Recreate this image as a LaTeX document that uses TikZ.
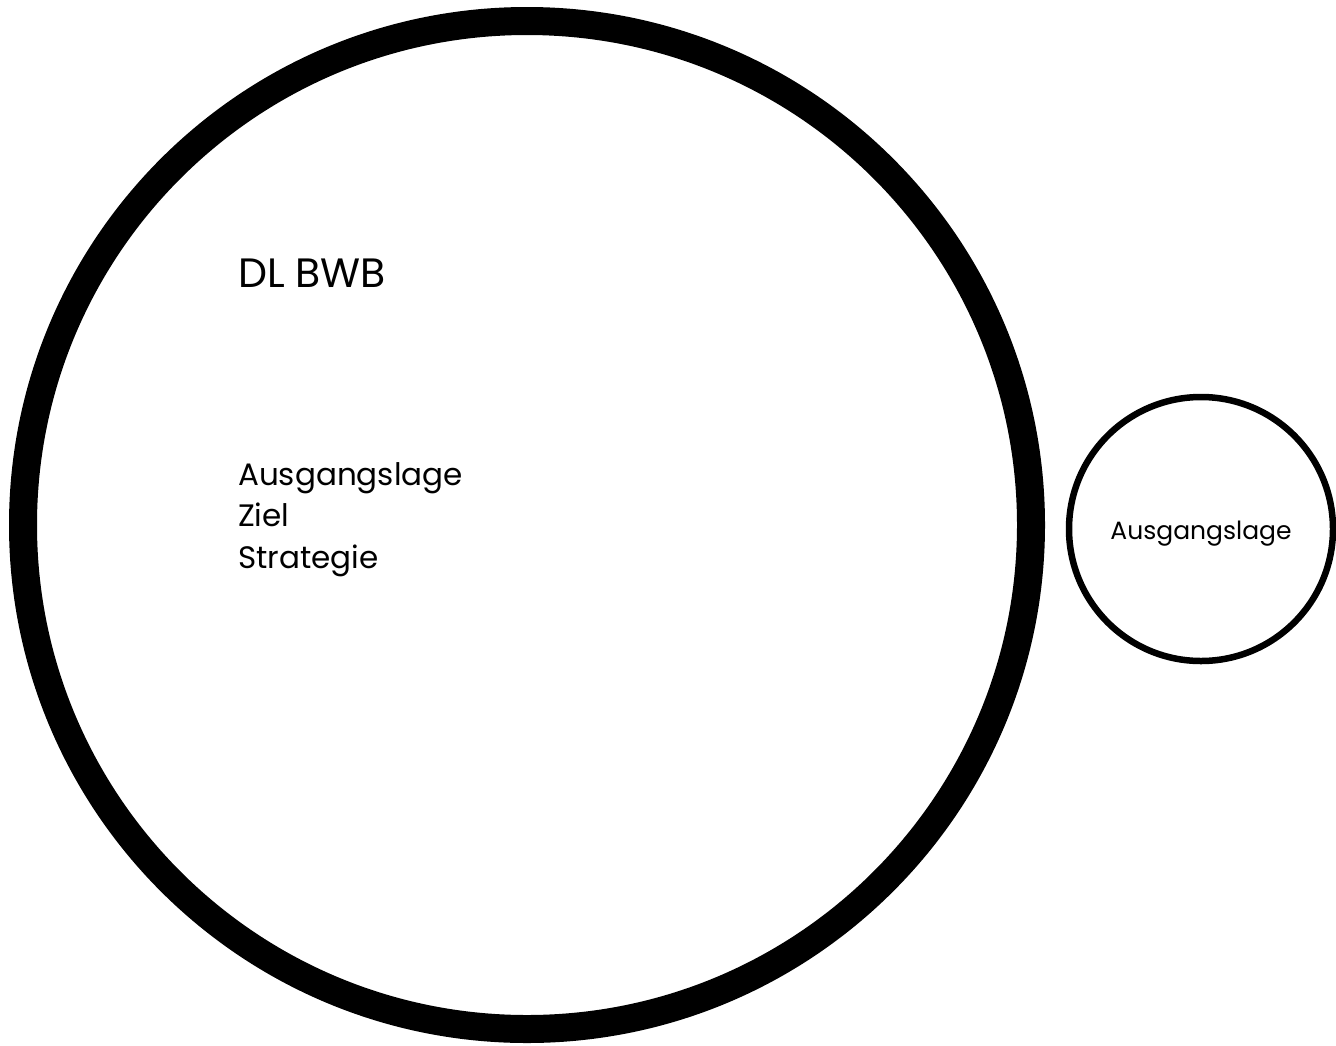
\documentclass[tikz,border=0pt]{standalone}
\usepackage{fontspec}
\setmainfont{Poppins}
\usepackage{tikz}
\usetikzlibrary{calc}

\begin{document}
\begin{tikzpicture}[x=1pt,y=-1pt]
      % page size of the reference
      \useasboundingbox (0,0) rectangle (1336,1045);

      % centres of the two rings
      \coordinate (big) at (527,525);
      \coordinate (small) at (1201,529);

      % Draw the two rings
      \draw[line width=28] (big) circle[radius=504];
      \draw[line width=6.5] (small) circle[radius=132];

      % Add the texts
      \node[anchor=base west, inner sep=0, font=\fontsize{41}{48}\selectfont] (title) at (238,287) {DL BWB};
      \node[anchor=base west, inner sep=0, align=left, font=\fontsize{31}{41.5}\selectfont] (list) at (238,568)
            {Ausgangslage\\Ziel\\Strategie};
      \node[anchor=base, inner sep=0, font=\fontsize{25}{30}\selectfont] (start) at ($(small)+(0,10)$) {Ausgangslage};
    \end{tikzpicture}
\end{document}
